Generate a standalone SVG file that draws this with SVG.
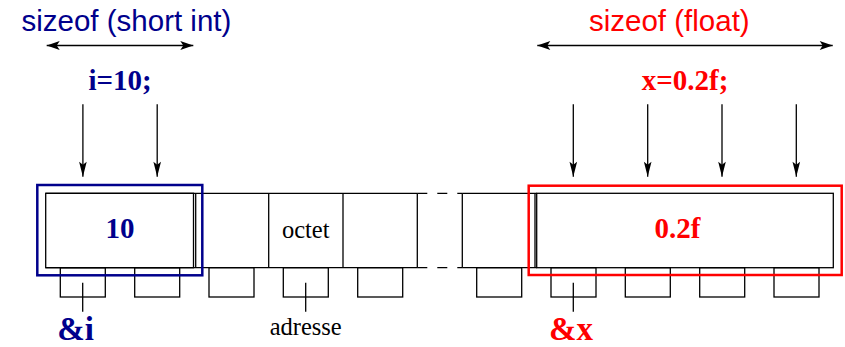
<svg xmlns="http://www.w3.org/2000/svg" width="845" height="347" viewBox="0 0 845 347">
<defs>
<style>
.ln{stroke:#000;stroke-width:1.3;fill:none}
.ttl{font-family:"Liberation Sans",Arial,sans-serif;font-size:29.5px}
.bold{font-family:"Liberation Serif","Times New Roman",serif;font-weight:bold;font-size:29px;text-anchor:middle}
.reg{font-family:"Liberation Serif","Times New Roman",serif;font-size:24.5px;text-anchor:middle;fill:#000}
.navy{fill:#00008c}
.red{fill:#ff0000}
</style>
<marker id="ah" viewBox="-14 -5 15 10" refX="0" refY="0" markerWidth="15" markerHeight="10" markerUnits="userSpaceOnUse" orient="auto-start-reverse">
<path d="M0,0 L-13,-4.5 L-10,0 L-13,4.5 Z" fill="#000"/>
</marker>
<marker id="av" viewBox="-16 -5 17 10" refX="0" refY="0" markerWidth="17" markerHeight="10" markerUnits="userSpaceOnUse" orient="auto">
<path d="M0,0 L-15,-3.8 L-12,0 L-15,3.8 Z" fill="#000"/>
</marker>
</defs>
<rect width="845" height="347" fill="#fff"/>

<g id="title-short">
<text class="ttl navy" x="21.5" y="30.5">sizeof (short int)</text>
</g>
<g id="title-float">
<text class="ttl red" x="589" y="30.5">sizeof (float)</text>
</g>
<g id="stmt-i">
<text class="bold navy" x="120" y="89.5">i=10;</text>
</g>
<g id="stmt-x">
<text class="bold red" x="685" y="89.5">x=0.2f;</text>
</g>

<g id="memory">
<line class="ln" x1="45.7" y1="193.3" x2="417.3" y2="193.3"/>
<line class="ln" x1="45.7" y1="267.7" x2="417.3" y2="267.7"/>
<line class="ln" x1="417.3" y1="193.3" x2="462.3" y2="193.3" stroke-dasharray="10 10"/>
<line class="ln" x1="417.3" y1="267.7" x2="462.3" y2="267.7" stroke-dasharray="10 10"/>
<line class="ln" x1="462.3" y1="193.3" x2="536.7" y2="193.3"/>
<line class="ln" x1="462.3" y1="267.7" x2="536.7" y2="267.7"/>
<line class="ln" x1="195.7" y1="193.3" x2="195.7" y2="267.7"/>
<line class="ln" x1="268.7" y1="193.3" x2="268.7" y2="267.7"/>
<line class="ln" x1="343" y1="193.3" x2="343" y2="267.7"/>
<line class="ln" x1="417.3" y1="193.3" x2="417.3" y2="267.7"/>
<line class="ln" x1="462.3" y1="193.3" x2="462.3" y2="267.7"/>
<line class="ln" x1="535" y1="193.3" x2="535" y2="267.7"/>
<rect class="ln" x="45.7" y="193.3" width="147.8" height="74.4"/>
<rect class="ln" x="536.7" y="193.3" width="296.6" height="74.4"/>
</g>

<g id="addresses">
<rect class="ln" x="60.3" y="267.7" width="45" height="29.3"/>
<rect class="ln" x="134.7" y="267.7" width="45" height="29.3"/>
<rect class="ln" x="209" y="267.7" width="45" height="29.3"/>
<rect class="ln" x="283.3" y="267.7" width="45" height="29.3"/>
<rect class="ln" x="357.7" y="267.7" width="45" height="29.3"/>
<rect class="ln" x="476.7" y="267.7" width="45" height="29.3"/>
<rect class="ln" x="551" y="267.7" width="45" height="29.3"/>
<rect class="ln" x="625.3" y="267.7" width="45" height="29.3"/>
<rect class="ln" x="699.7" y="267.7" width="45" height="29.3"/>
<rect class="ln" x="774" y="267.7" width="45" height="29.3"/>
</g>

<g id="var-i">
<rect x="37.3" y="185" width="165" height="90.3" fill="none" stroke="#00008c" stroke-width="2.5"/>
<text class="bold navy" x="120" y="238.3">10</text>
</g>
<g id="var-x">
<rect x="528.7" y="185.7" width="313" height="89.3" fill="none" stroke="#ff0000" stroke-width="2.5"/>
<text class="bold red" x="677.5" y="238.3">0.2f</text>
</g>
<g id="octet">
<text class="reg" x="305.7" y="238.3">octet</text>
</g>
<g id="label-adresse">
<text class="reg" x="305.7" y="335">adresse</text>
</g>
<g id="label-ref-i">
<text class="bold navy" x="75.5" y="340" style="font-size:33px">&amp;i</text>
</g>
<g id="label-ref-x">
<text class="bold red" x="571" y="340" style="font-size:33px">&amp;x</text>
</g>

<g id="connectors">
<line class="ln" x1="46.7" y1="45.5" x2="193.3" y2="45.5" marker-start="url(#ah)" marker-end="url(#ah)"/>
<line class="ln" x1="537.3" y1="45.5" x2="832.7" y2="45.5" marker-start="url(#ah)" marker-end="url(#ah)"/>
<line class="ln" x1="82.9" y1="104.3" x2="82.9" y2="176.7" marker-end="url(#av)"/>
<line class="ln" x1="157.2" y1="104.3" x2="157.2" y2="176.7" marker-end="url(#av)"/>
<line class="ln" x1="573.3" y1="104.3" x2="573.3" y2="176.7" marker-end="url(#av)"/>
<line class="ln" x1="647.7" y1="104.3" x2="647.7" y2="176.7" marker-end="url(#av)"/>
<line class="ln" x1="722" y1="104.3" x2="722" y2="176.7" marker-end="url(#av)"/>
<line class="ln" x1="796.3" y1="104.3" x2="796.3" y2="176.7" marker-end="url(#av)"/>
<line class="ln" x1="82.7" y1="282.7" x2="82.7" y2="311.7"/>
<line class="ln" x1="305.7" y1="282.7" x2="305.7" y2="311.7"/>
<line class="ln" x1="573.3" y1="282.7" x2="573.3" y2="311.7"/>
</g>
</svg>
